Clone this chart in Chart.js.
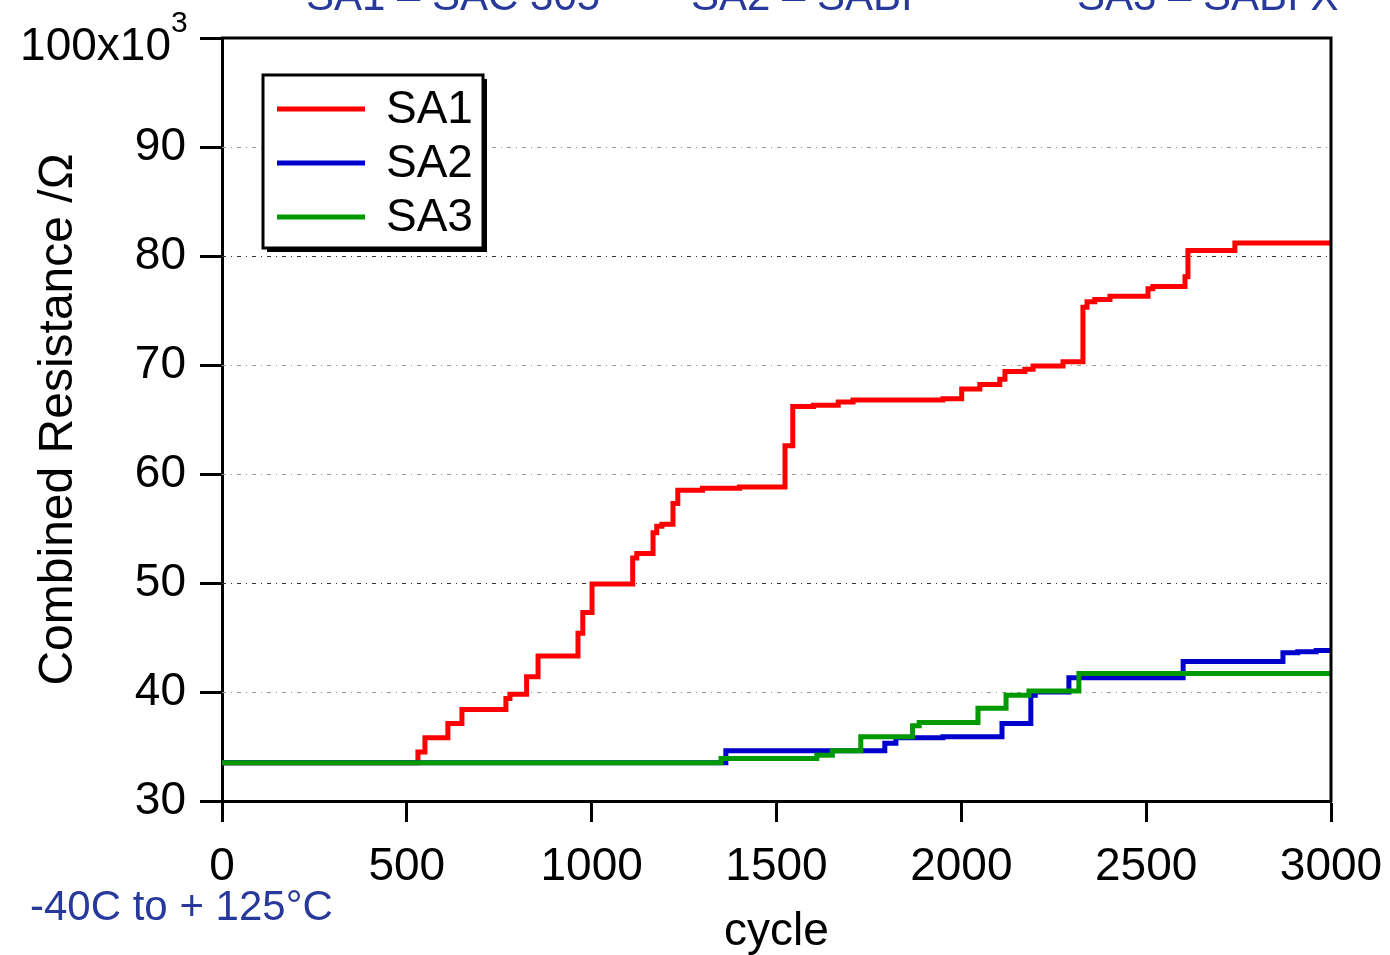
<!DOCTYPE html>
<html><head><meta charset="utf-8">
<script src="https://cdn.jsdelivr.net/npm/chart.js@4"></script>
<style>html,body{margin:0;padding:0;background:#fff;overflow:hidden}#wrap{width:1390px;height:955px;position:relative}</style>
</head><body><div id="wrap"><canvas id="c" width="1390" height="955"></canvas></div>
<script>
// ---- data ----
const seriesNames = ['SA1', 'SA2', 'SA3'];
const seriesColors = ['#ff0000', '#0000cc', '#009900'];
const sa1Cycles = [0, 530, 549, 611, 649, 768, 779, 824, 855, 963, 976, 1001, 1111, 1122, 1166, 1176, 1190, 1220, 1233, 1300, 1400, 1523, 1544, 1600, 1667, 1707, 1950, 2001, 2050, 2104, 2118, 2172, 2194, 2275, 2329, 2340, 2361, 2402, 2505, 2518, 2605, 2613, 2740, 3000];
const sa1Values = [33.5, 34.5, 35.8, 37.1, 38.4, 39.4, 39.8, 41.4, 43.3, 45.4, 47.3, 49.9, 52.3, 52.7, 54.6, 55.2, 55.4, 57.3, 58.5, 58.7, 58.8, 62.6, 66.2, 66.3, 66.6, 66.8, 66.9, 67.8, 68.2, 68.7, 69.4, 69.6, 69.9, 70.3, 75.3, 75.8, 76.0, 76.3, 77.0, 77.2, 78.1, 80.5, 81.2, 81.2];
const sa2Cycles = [0, 1363, 1793, 1823, 1950, 2110, 2188, 2200, 2291, 2600, 2870, 2910, 2960, 3000];
const sa2Values = [33.5, 34.6, 35.3, 35.8, 35.9, 37.1, 39.7, 40.0, 41.3, 42.8, 43.6, 43.7, 43.8, 43.8];
const sa3Cycles = [0, 1350, 1609, 1651, 1728, 1868, 1886, 2045, 2121, 2183, 2318, 3000];
const sa3Values = [33.5, 33.9, 34.2, 34.6, 35.9, 36.9, 37.2, 38.5, 39.7, 40.1, 41.7, 41.8];
const xMin = 0, xMax = 3000, xStep = 500;
const yMin = 30, yMax = 100, yStep = 10;
const darkGridValues = [50, 80];
const yAxisTitle = 'Combined Resistance /Ω';
const xAxisTitle = 'cycle';
const topNotes = [['SA1 – SAC 305', 306], ['SA2 – SABI', 691], ['SA3 – SABI X', 1077]];
const conditionNote = '-40C to + 125°C';

const FONT = '"Liberation Sans", Arial, sans-serif';
const noteBlue = '#27399b';

function pts(cs, vs) { return cs.map((c, i) => ({ x: c, y: vs[i] })); }
const allCycles = [sa1Cycles, sa2Cycles, sa3Cycles];
const allValues = [sa1Values, sa2Values, sa3Values];

const datasets = seriesNames.map((n, i) => ({
  label: n,
  data: pts(allCycles[i], allValues[i]),
  borderColor: seriesColors[i],
  backgroundColor: seriesColors[i],
  borderWidth: 5,
  pointRadius: 0,
  stepped: 'before',
  tension: 0,
  fill: false,
  order: 3 - i
}));

const gridPlugin = {
  id: 'dashGrid',
  beforeDatasetsDraw(chart) {
    const { ctx, chartArea: a, scales: { y } } = chart;
    ctx.save();
    ctx.lineWidth = 1;
    y.ticks.forEach(t => {
      if (t.value <= yMin || t.value >= yMax) return;
      const py = Math.round(y.getPixelForValue(t.value)) + 0.5;
      ctx.strokeStyle = darkGridValues.includes(t.value) ? '#333' : '#9a9a9a';
      ctx.setLineDash([4, 5, 1, 5]);
      ctx.beginPath(); ctx.moveTo(a.left, py); ctx.lineTo(a.right, py); ctx.stroke();
    });
    ctx.restore();
  }
};

const decoPlugin = {
  id: 'deco',
  afterDraw(chart) {
    const { ctx, chartArea: a, scales: { y } } = chart;
    ctx.save();
    // frame top & right
    ctx.strokeStyle = '#000'; ctx.lineWidth = 3; ctx.setLineDash([]);
    ctx.beginPath();
    ctx.moveTo(a.left - 1, a.top); ctx.lineTo(a.right, a.top); ctx.lineTo(a.right, a.bottom + 1);
    ctx.stroke();
    // 100x10^3 label
    const p100 = y.getPixelForValue(yMax);
    ctx.fillStyle = '#000';
    ctx.font = '46px ' + FONT;
    ctx.textAlign = 'right'; ctx.textBaseline = 'middle';
    ctx.fillText('100x10', 171, p100 + 9);
    ctx.font = '30px ' + FONT;
    ctx.textAlign = 'left';
    ctx.fillText('3', 171, p100 - 14);
    // legend
    const lx = 263, ly = 75, lw = 220, lh = 173;
    ctx.fillStyle = '#000';
    ctx.fillRect(lx + 4, ly + 4, lw, lh);
    ctx.fillStyle = '#fff';
    ctx.fillRect(lx, ly, lw, lh);
    ctx.lineWidth = 3; ctx.strokeStyle = '#000';
    ctx.strokeRect(lx, ly, lw, lh);
    ctx.font = '46px ' + FONT;
    ctx.textBaseline = 'middle'; ctx.textAlign = 'left';
    seriesNames.forEach((n, i) => {
      const yy = 109 + i * 54;
      ctx.strokeStyle = seriesColors[i]; ctx.lineWidth = 5;
      ctx.beginPath(); ctx.moveTo(277, yy); ctx.lineTo(365, yy); ctx.stroke();
      ctx.fillStyle = '#000';
      ctx.fillText(n, 386, yy + 1);
    });
    // blue notes
    ctx.fillStyle = noteBlue;
    ctx.font = '42px ' + FONT;
    ctx.textBaseline = 'alphabetic';
    topNotes.forEach(([t, x]) => ctx.fillText(t, x, 10));
    ctx.fillText(conditionNote, 30, 920);
    ctx.restore();
  }
};

Chart.defaults.font.family = FONT;
Chart.defaults.color = '#000';

new Chart(document.getElementById('c'), {
  type: 'line',
  data: { datasets },
  options: {
    responsive: false,
    animation: false,
    devicePixelRatio: 1,
    layout: { padding: { left: 0, right: 59, top: 38, bottom: 0 } },
    plugins: { legend: { display: false }, tooltip: { enabled: false } },
    scales: {
      x: {
        type: 'linear', min: xMin, max: xMax,
        ticks: { stepSize: xStep, font: { size: 46 }, color: '#000', padding: 18, maxRotation: 0,
          callback: v => String(v) },
        grid: { drawOnChartArea: false, drawTicks: true, tickLength: 21, tickWidth: 3, tickColor: '#000' },
        border: { display: true, color: '#000', width: 3 },
        title: { display: true, text: xAxisTitle, font: { size: 46, lineHeight: 1.0 }, color: '#000', padding: { top: 0, bottom: 0 } },
        afterFit(s) { s.height = 154; s.paddingLeft = 0; s.paddingRight = 0; }
      },
      y: {
        type: 'linear', min: yMin, max: yMax,
        ticks: { stepSize: yStep, font: { size: 46 }, color: '#000', padding: 14,
          callback: v => (v === yMax ? '' : String(v)) },
        grid: { drawOnChartArea: false, drawTicks: true, tickLength: 22, tickWidth: 3, tickColor: '#000' },
        border: { display: true, color: '#000', width: 3 },
        title: { display: true, text: yAxisTitle, font: { size: 48 }, color: '#000', padding: { top: 30, bottom: 0 } },
        afterFit(s) { s.width = 222; s.paddingTop = 0; s.paddingBottom = 0; }
      }
    }
  },
  plugins: [gridPlugin, decoPlugin]
});
</script>
</body></html>
